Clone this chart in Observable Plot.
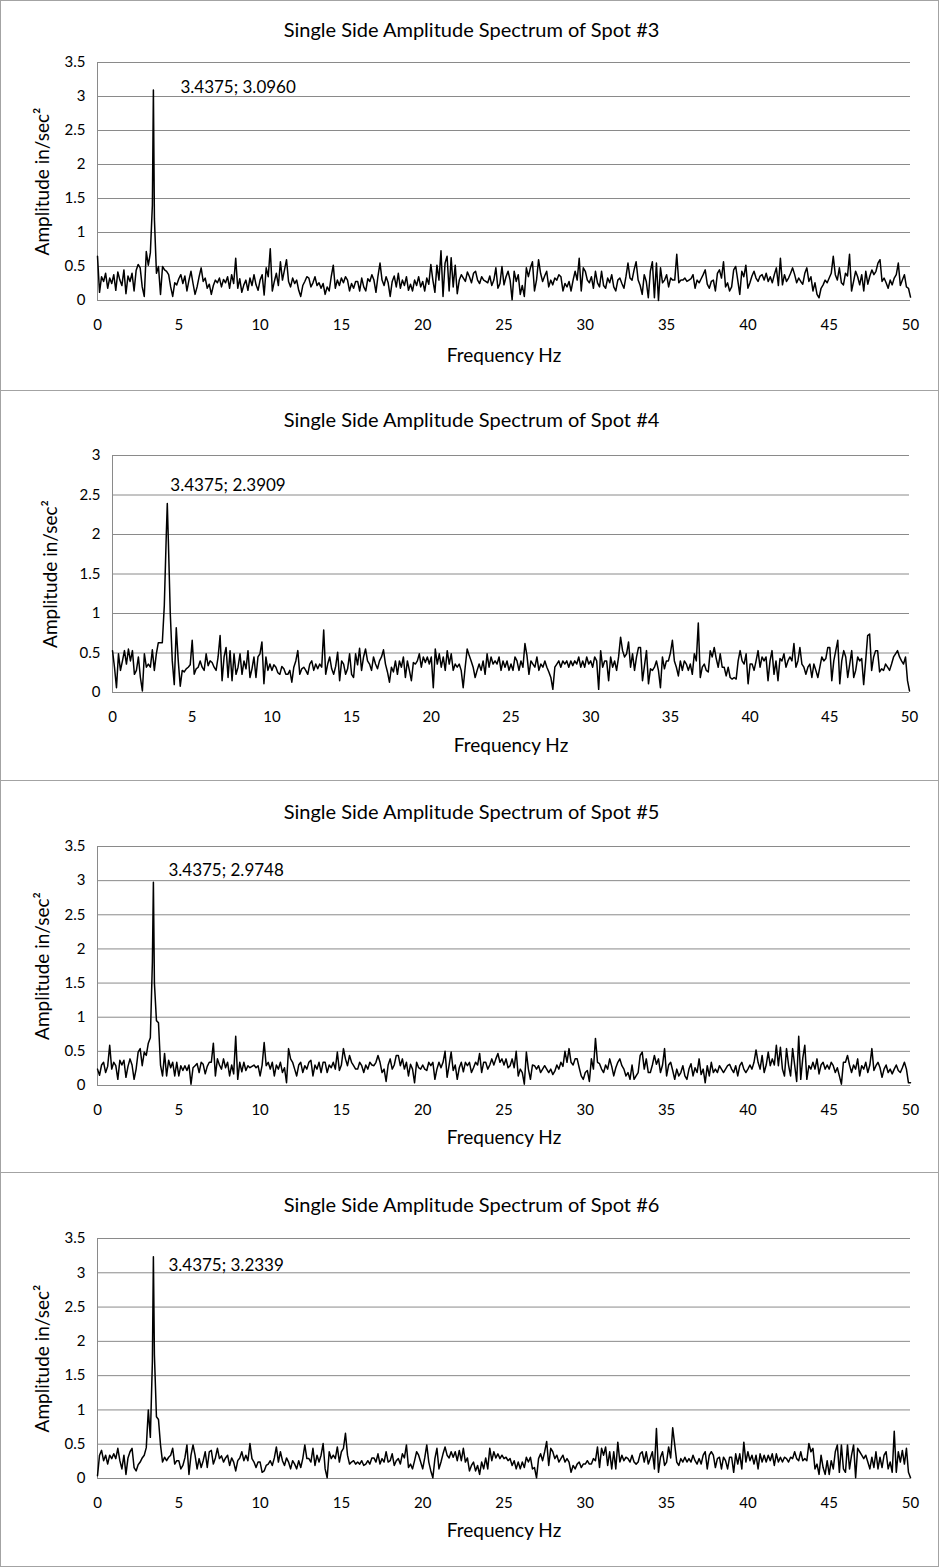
<!DOCTYPE html>
<html><head><meta charset="utf-8">
<script src="https://cdn.jsdelivr.net/npm/d3@7"></script>
<script src="https://cdn.jsdelivr.net/npm/@observablehq/plot@0.6"></script>
<style>
body{margin:0;background:#fff;}
#wrap{position:relative;width:939px;height:1567px;overflow:hidden;background:#fff;}
.panel{position:absolute;left:0;width:939px;}
.border{position:absolute;left:0;width:939px;box-sizing:border-box;border:1px solid #a3a3a3;pointer-events:none;}
</style></head><body><div id="wrap"></div>
<script>
// Sampling grid of the spectra (Hz between samples); amplitudes below are in hundredths of in/sec²
const freqStep = 0.125;
const peakFreq = 3.4375;
const xTicks = [0, 5, 10, 15, 20, 25, 30, 35, 40, 45, 50];

const titles = [
  "Single Side Amplitude Spectrum of Spot #3",
  "Single Side Amplitude Spectrum of Spot #4",
  "Single Side Amplitude Spectrum of Spot #5",
  "Single Side Amplitude Spectrum of Spot #6"
];
const peakAmps = [3.0960, 2.3909, 2.9748, 3.2339];
const peakLabels = ["3.4375; 3.0960", "3.4375; 2.3909", "3.4375; 2.9748", "3.4375; 3.2339"];
const yMaxes = [3.5, 3, 3.5, 3.5];
const xLabel = "Frequency Hz";
const yLabel = "Amplitude in/sec²";

const spot3 = [
65,12,35,28,40,18,33,25, 38,15,42,30,22,45,10,36, 28,40,14,44,53,48,20,6, 72,52,70,140,120,40,50,9,
50,45,43,38,20,6,26,23, 32,38,25,36,14,30,43,25, 9,20,35,48,28,33,18,24, 9,22,30,26,33,20,31,26,
35,18,38,25,62,18,32,12, 23,30,15,33,22,38,23,15, 30,38,8,48,35,76,14,28, 40,22,57,30,45,60,28,20,
33,25,30,15,6,22,28,35, 33,20,26,35,22,26,18,25, 9,20,14,35,52,18,30,22, 33,26,35,30,14,25,18,28,
28,14,33,20,14,32,28,38, 30,12,36,55,30,22,35,26, 6,28,36,20,40,18,30,22, 35,15,24,14,30,22,35,20,
28,14,33,24,53,30,12,52, 30,73,6,55,65,14,63,20, 52,10,30,38,33,28,42,35, 26,40,43,30,25,35,30,28,
26,36,22,30,48,18,25,50, 23,35,43,30,1,43,28,38, 9,22,6,48,35,48,57,14, 30,60,40,28,36,43,20,30,
23,33,30,38,35,14,25,20, 28,14,30,43,30,62,14,48, 43,30,26,35,18,43,26,20, 43,22,18,33,26,38,20,14,
30,33,25,18,35,55,33,30, 45,57,30,22,9,38,28,4, 43,57,4,55,0,48,26,30, 38,20,33,30,30,68,26,30,
30,33,28,30,32,38,18,30, 26,32,38,45,24,18,28,30, 14,40,45,33,57,20,26,14, 20,45,50,30,9,43,35,52,
18,26,36,43,33,28,36,38, 30,40,28,35,26,38,48,22, 62,23,38,28,33,40,48,38, 26,33,28,24,40,48,28,35,
14,26,9,4,18,23,30,26, 33,40,65,38,30,48,26,23, 40,36,68,14,28,43,35,23, 38,14,43,24,36,45,38,43,
55,60,28,33,26,18,30,23, 33,38,55,22,30,38,20,18, 5
];

const spot4 = [
53,32,6,49,28,40,53,36, 55,40,53,23,28,45,19,2, 49,32,36,32,54,28,49,63, 63,63,110,200,195,100,40,10,
82,40,8,28,26,30,32,35, 66,23,30,32,40,32,28,49, 34,40,38,32,28,45,72,15, 45,57,19,53,15,49,23,32,
49,23,40,30,53,19,30,45, 19,45,49,64,11,45,28,36, 28,35,32,25,23,33,30,23, 23,28,13,32,40,53,23,30,
32,28,23,36,40,28,36,30, 36,32,79,23,36,45,30,23, 33,51,15,40,36,23,30,49, 23,19,49,35,56,28,45,55,
40,36,28,45,36,30,40,45, 54,36,26,13,32,26,40,23, 40,32,45,19,40,28,15,38, 36,40,49,32,45,38,45,36,
45,6,55,36,49,32,45,28, 53,36,49,28,36,32,36,28, 6,32,55,47,40,32,19,28, 36,28,40,23,49,32,45,36,
40,36,45,28,40,32,40,28, 36,28,45,40,28,40,32,62, 47,23,40,36,32,45,28,36, 32,40,32,26,19,4,32,36,
40,32,40,36,40,32,40,34, 40,36,45,32,40,32,45,36, 40,32,45,40,4,53,32,40, 40,15,45,32,40,28,45,70,
53,45,49,64,32,49,28,45, 57,57,15,34,53,11,30,28, 32,40,28,6,45,30,40,40, 50,66,40,32,21,40,28,40,
36,28,36,23,49,40,88,19, 32,36,28,26,53,45,57,43, 32,49,32,32,21,32,19,17, 19,17,40,53,40,36,49,11,
36,36,28,40,53,32,45,40, 45,15,40,53,23,40,15,43, 40,49,32,40,45,40,62,32, 40,57,36,32,23,32,36,19,
36,28,19,32,45,40,43,57, 57,15,40,53,66,11,40,53, 45,19,36,53,19,28,45,40, 43,10,40,72,74,28,45,53,
53,26,30,28,36,32,28,36, 45,49,53,45,40,36,45,15, 2
];

const spot5 = [
24,15,30,34,19,28,59,24, 34,29,9,37,30,37,12,28, 39,30,9,24,49,54,29,49, 44,62,70,180,150,95,92,30,
14,47,14,37,26,34,14,34, 14,29,22,29,22,30,2,26, 29,32,19,34,31,17,28,34, 34,62,14,39,30,24,39,26,
34,14,30,17,72,9,34,20, 34,22,29,26,28,30,26,29, 14,30,63,29,34,24,34,14, 30,24,34,19,26,4,54,39,
34,24,14,30,34,19,29,24, 34,37,14,30,24,34,19,34, 34,19,30,26,34,24,49,22, 30,54,39,29,44,34,29,24,
24,34,29,19,30,24,34,30, 29,34,44,34,19,24,6,30, 39,24,30,44,44,29,39,24, 34,14,31,24,4,34,26,24,
30,24,22,34,29,34,9,24, 34,26,34,50,12,30,49,22, 30,9,26,34,20,34,29,34, 19,26,34,30,47,19,34,34,
24,30,39,30,39,47,34,39, 30,39,26,29,39,26,50,14, 24,19,2,49,24,9,30,29, 24,29,19,24,29,24,19,24,
16,21,30,24,34,28,50,34, 54,34,30,39,39,26,14,9, 19,22,6,39,24,69,34,32, 24,19,30,24,39,28,14,26,
34,39,29,24,14,19,9,30, 9,14,19,44,49,24,39,19, 19,30,44,31,39,19,30,54, 14,30,34,22,9,24,14,19,
29,14,9,24,32,14,26,19, 39,16,24,4,29,14,34,19, 24,19,29,24,19,24,29,31, 24,19,29,14,29,34,24,19,
24,30,24,34,52,34,24,44, 19,30,49,29,39,30,59,29, 56,24,14,54,30,14,54,30, 6,72,9,40,59,9,29,24,
34,24,39,17,30,34,24,30, 24,34,29,19,26,14,2,34, 34,44,30,19,30,24,39,14, 29,24,34,19,30,54,22,29,
34,26,12,24,30,19,24,17, 24,30,22,19,26,34,24,4, 4
];

const spot6 = [
4,34,41,26,34,21,34,29, 36,29,44,26,14,34,6,30, 39,44,16,11,20,24,30,34, 45,100,60,170,180,90,86,49,
24,31,26,31,34,44,21,26, 26,14,19,30,49,6,34,49, 34,14,29,16,26,39,16,39, 41,21,30,44,29,33,24,30,
34,19,30,24,11,26,30,39, 26,34,26,51,29,24,16,24, 24,9,11,19,21,26,19,30, 46,24,39,26,19,30,24,14,
26,21,14,26,16,29,49,29, 29,24,44,19,34,24,34,51, 14,1,39,29,34,29,46,24, 39,44,66,34,21,24,26,21,
24,21,26,19,21,26,21,30, 30,24,36,21,29,24,39,24, 26,36,19,26,29,21,36,30, 49,16,21,14,26,39,34,24,
14,30,49,24,11,1,29,44, 14,24,36,46,34,30,39,31, 39,26,41,26,44,24,30,11, 19,24,11,19,6,24,14,30,
14,44,26,39,30,36,29,34, 29,31,26,29,19,26,14,24, 14,24,16,31,24,31,14,16, 1,29,36,26,39,54,19,44,
39,29,34,24,29,34,24,29, 24,9,19,14,21,24,16,21, 21,26,21,21,29,26,46,16, 44,34,46,19,39,14,39,14,
53,24,34,26,31,29,24,34, 24,21,24,36,39,24,39,21, 30,39,14,73,9,31,39,19, 24,46,30,74,49,24,19,29,
24,31,24,29,24,34,26,21, 29,21,34,39,14,34,39,34, 16,29,31,14,31,26,14,31, 31,9,36,21,36,14,53,24,
39,26,34,21,34,14,36,24, 34,24,34,26,36,19,36,24, 31,24,31,29,24,31,29,39, 29,26,39,26,29,26,51,39,
44,14,21,6,34,16,6,26, 6,26,14,39,49,9,49,14, 9,49,14,34,49,1,44,39, 34,29,34,24,14,31,16,39,
14,31,16,34,39,14,24,9, 69,9,39,24,41,21,44,9, 1
];

const spectra = [spot3, spot4, spot5, spot6];

// layout of each panel (pixels)
const layout = [
  {top: 0,    h: 390, ml: 97,  mr: 29, mt: 62, mb: 90, tdy: -32, xdy: 55, ydx: -55, adx: 27, ady: -2},
  {top: 390,  h: 390, ml: 112, mr: 30, mt: 65, mb: 88, tdy: -35, xdy: 53, ydx: -62, adx: 3,  ady: -18},
  {top: 780,  h: 392, ml: 97,  mr: 29, mt: 66, mb: 87, tdy: -34, xdy: 52, ydx: -55, adx: 15, ady: -12},
  {top: 1172, h: 395, ml: 97,  mr: 29, mt: 66, mb: 89, tdy: -33, xdy: 52, ydx: -55, adx: 15, ady: 9}
];

const W = 939;
const FONT = "Lato, 'Open Sans', sans-serif";
const wrap = document.getElementById("wrap");

spectra.forEach((amps, k) => {
  const L = layout[k];
  const pts = amps.map((v, i) => ({f: i * freqStep, a: v / 100}));
  pts.push({f: peakFreq, a: peakAmps[k]});
  pts.sort((p, q) => p.f - q.f);
  const yTicks = d3.range(0, yMaxes[k] + 0.001, 0.5);
  const frameCenter = (L.ml + W - L.mr) / 2;
  const titleDx = 471 - frameCenter;

  const chart = Plot.plot({
    width: W, height: L.h,
    marginLeft: L.ml, marginRight: L.mr, marginTop: L.mt, marginBottom: L.mb,
    style: {fontFamily: FONT, fontSize: "15px", background: "transparent", color: "#000"},
    x: {domain: [0, 50], ticks: xTicks, tickSize: 0, tickPadding: 19, label: null, tickFormat: d => String(d)},
    y: {domain: [0, yMaxes[k]], ticks: yTicks, tickSize: 0, tickPadding: 12, label: null, tickFormat: d => String(d)},
    marks: [
      Plot.ruleY(yTicks, {stroke: "#8a8a8a", strokeWidth: 1}),
      Plot.ruleX([0], {stroke: "#8a8a8a", strokeWidth: 1}),
      Plot.line(pts, {x: "f", y: "a", stroke: "#000", strokeWidth: 1.5}),
      Plot.text([{f: peakFreq, a: peakAmps[k], t: peakLabels[k]}], {x: "f", y: "a", text: "t", textAnchor: "start", lineAnchor: "middle", dx: L.adx, dy: L.ady, fontSize: 17, fill: "#000"}),
      Plot.text([titles[k]], {frameAnchor: "top", textAnchor: "middle", lineAnchor: "middle", dx: titleDx, dy: L.tdy, fontSize: 20, fill: "#000"}),
      Plot.text([xLabel], {frameAnchor: "bottom", textAnchor: "middle", lineAnchor: "middle", dy: L.xdy, fontSize: 19, fill: "#000"}),
      Plot.text([yLabel], {frameAnchor: "left", textAnchor: "middle", lineAnchor: "middle", dx: L.ydx, rotate: -90, fontSize: 19, fill: "#000"})
    ]
  });
  const holder = document.createElement("div");
  holder.className = "panel";
  holder.style.top = L.top + "px";
  holder.appendChild(chart);
  wrap.appendChild(holder);

  const b = document.createElement("div");
  b.className = "border";
  b.style.top = L.top + "px";
  b.style.height = (k === 3 ? (1567 - L.top) : (L.h + 1)) + "px";
  wrap.appendChild(b);
});
</script>
</body></html>
